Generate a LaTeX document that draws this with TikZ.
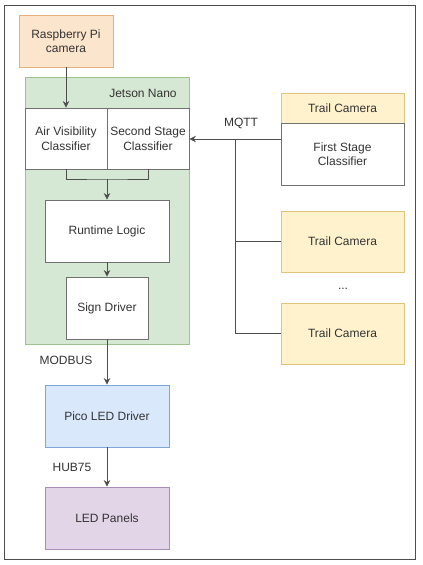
\documentclass[tikz,border=0pt]{standalone}
\usepackage{fontspec}
\setmainfont{Liberation Sans}
\usetikzlibrary{arrows.meta,positioning}
\definecolor{orfill}{HTML}{FCE5CD}
\definecolor{ordraw}{HTML}{E3B07E}
\definecolor{grfill}{HTML}{D5E8D4}
\definecolor{grdraw}{HTML}{9CC38F}
\definecolor{blfill}{HTML}{DAE8FC}
\definecolor{bldraw}{HTML}{7EA6D8}
\definecolor{pufill}{HTML}{E1D5E7}
\definecolor{pudraw}{HTML}{A88DB7}
\definecolor{yefill}{HTML}{FFF2CC}
\definecolor{yedraw}{HTML}{E0C47A}
\definecolor{ln}{HTML}{4D4D4D}
\definecolor{tx}{HTML}{333333}
\tikzset{
  box/.style={draw=ln!80, fill=white, line width=0.8pt, align=center, inner sep=1pt, text=tx, font=\fontsize{12}{14.5}\selectfont},
  lbl/.style={text=tx, font=\fontsize{12}{14.5}\selectfont, inner sep=0pt},
  conn/.style={draw=ln, line width=0.8pt},
  arr/.style={conn, -{Stealth[length=6.5pt,width=6.5pt]}},
}
\begin{document}
\begin{tikzpicture}[x=1pt,y=-1pt]
\useasboundingbox (0,0) rectangle (423,565);
\draw[ln, line width=0.8pt] (4,5) rectangle (415,559);
% Raspberry Pi camera
\node[box, fill=orfill, draw=ordraw, minimum width=94pt, minimum height=52pt] (rpi) at (66,41) {Raspberry Pi\\camera};
% Jetson Nano container
\node[box, fill=grfill, draw=grdraw, minimum width=164pt, minimum height=267pt] (jn) at (107,210.5) {};
\node[lbl] (jnl) at (143,93) {Jetson Nano};
\node[box, minimum width=82pt, minimum height=61pt] (air) at (66,138.5) {Air Visibility\\Classifier};
\node[box, minimum width=82pt, minimum height=61pt] (ss) at (148,138.5) {Second Stage\\Classifier};
\node[box, minimum width=124pt, minimum height=62pt] (rt) at (107,231) {Runtime Logic};
\node[box, minimum width=82pt, minimum height=62pt] (sd) at (107,308) {Sign Driver};
% lower chain
\node[box, fill=blfill, draw=bldraw, minimum width=124pt, minimum height=62pt] (pico) at (107,416) {Pico LED Driver};
\node[box, fill=pufill, draw=pudraw, minimum width=124pt, minimum height=62pt] (led) at (107,518) {LED Panels};
% trail cameras
\node[box, fill=yefill, draw=yedraw, minimum width=123pt, minimum height=30pt] (tc1h) at (342.5,108) {Trail Camera};
\node[box, minimum width=123pt, minimum height=62pt] (tc1b) at (342.5,154) {First Stage\\Classifier};
\node[box, fill=yefill, draw=yedraw, minimum width=123pt, minimum height=61pt] (tc2) at (342.5,241.5) {Trail Camera};
\node[box, fill=yefill, draw=yedraw, minimum width=123pt, minimum height=61pt] (tc3) at (342.5,333.5) {Trail Camera};
\node[lbl] (dots) at (343,289) {...};
% connectors
\draw[arr] (rpi.south) -- (air.north);
\coordinate (merge) at (107,179);
\draw[conn] (air.south) |- (merge) -| (ss.south);
\draw[arr] (merge) -- (rt.north);
\draw[arr] (rt.south) -- (sd.north);
\draw[arr] (sd.south) -- (pico.north);
\draw[arr] (pico.south) -- (led.north);
\node[lbl] (modbus) at (66,360) {MODBUS};
\node[lbl] (hub) at (72,467) {HUB75};
\coordinate (bus) at (235,139);
\coordinate (tcin) at (281,139);
\draw[arr] (tcin) -- (ss.east |- tcin);
\draw[conn] (bus) |- (tc3.west);
\draw[conn] (bus |- tc2.west) -- (tc2.west);
\node[lbl] (mqtt) at (241,123) {MQTT};
\end{tikzpicture}
\end{document}
